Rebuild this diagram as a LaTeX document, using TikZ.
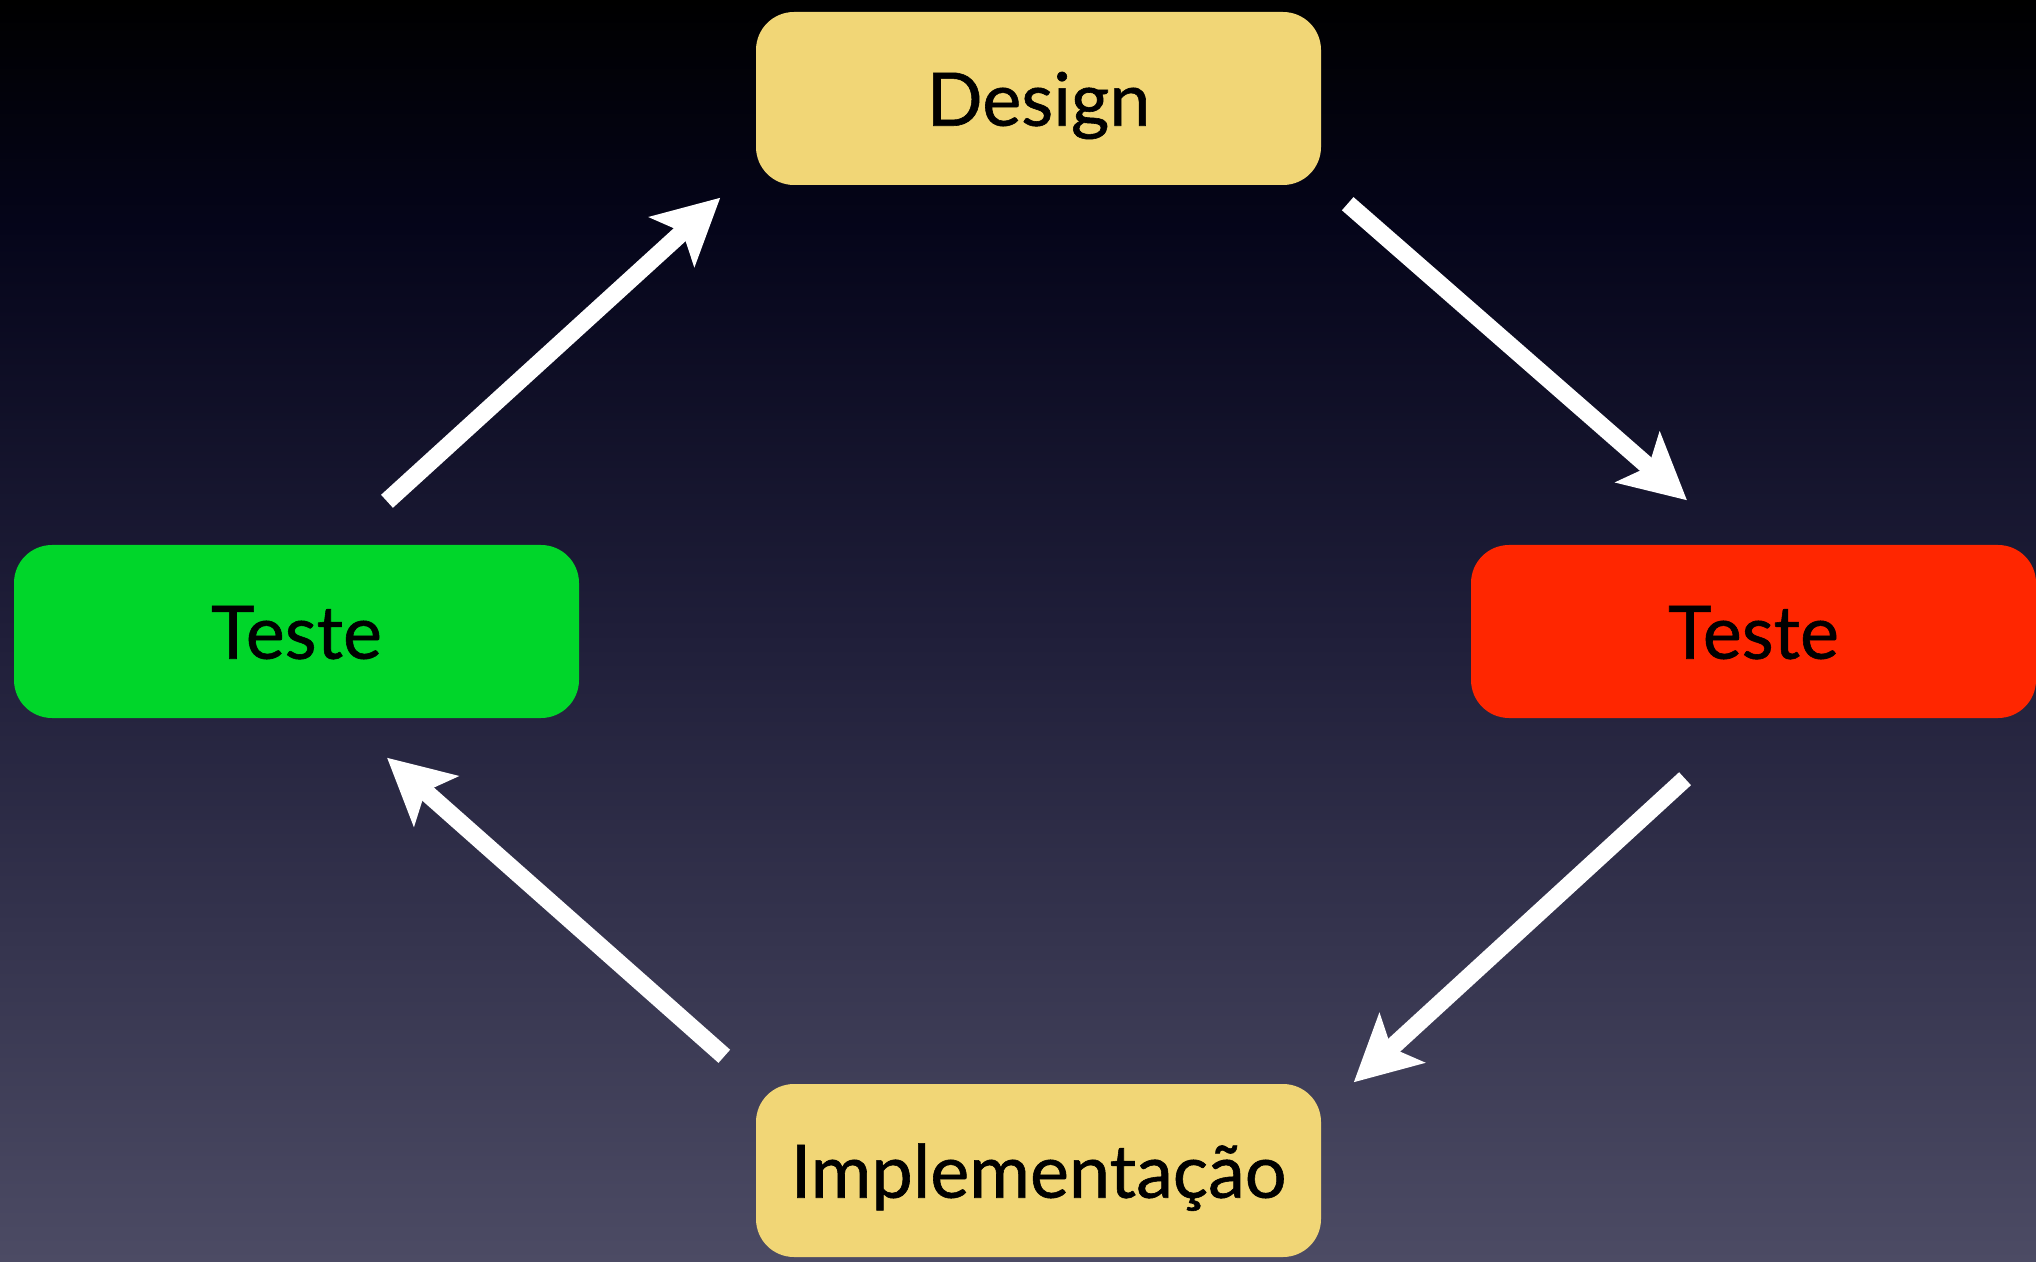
\documentclass[tikz,border=0pt]{standalone}
\usepackage{fontspec}
\setmainfont{Lato}[FakeBold=0.8]
\usetikzlibrary{arrows.meta}
\usetikzlibrary{positioning}
\definecolor{fundotopo}{HTML}{000000}
\definecolor{fundoalto}{HTML}{05051A}
\definecolor{fundomeio}{HTML}{1F1E39}
\definecolor{fundobaixo}{HTML}{4C4B64}
\definecolor{amarelo}{HTML}{F1D676}
\definecolor{verde}{HTML}{00D62A}
\definecolor{vermelho}{HTML}{FF2600}
% a caixa do caminho ocupa de 25bp a 75bp
\pgfdeclareverticalshading{fundo}{100bp}{color(0bp)=(fundobaixo); color(25bp)=(fundobaixo);
  color(50bp)=(fundomeio); color(66bp)=(fundoalto); color(75bp)=(fundotopo);
  color(100bp)=(fundotopo)}
\tikzset{etapa/.style={rectangle, rounded corners=0.38cm, inner sep=0pt,
minimum width=5.65cm, minimum height=1.73cm, text=black,
text height=15.5pt, text depth=0pt,
font=\fontsize{21}{25}\selectfont},
amarela/.style={etapa, fill=amarelo},
verdeb/.style={etapa, fill=verde},
vermelhab/.style={etapa, fill=vermelho},
seta/.style={->, draw=white, line width=5pt},
>={Stealth[length=6.5mm, width=6.6mm, inset=1.4mm]}}
\begin{document}
\begin{tikzpicture}
  % fundo do slide
  \shade [shading=fundo] (0,0) rectangle (20.36,12.61);
  \useasboundingbox (0,0) rectangle (20.36,12.61);

  \node (design) [amarela] at (10.385,11.625) {Design};
  \node (tverde) [verdeb] at (2.965,6.295) {Teste};
  \node (tvermelho) [vermelhab] at (17.535,6.295) {Teste};
  \node (impl) [amarela] at (10.385,0.905) {Implementação};

  % o ciclo
  \draw [seta] ([shift={(0.905,0.43)}]tverde.north) -- ([shift={(-0.35,-0.12)}]design.south west);
  \draw [seta] ([shift={(0.26,-0.18)}]design.south east) -- ([shift={(-0.665,0.44)}]tvermelho.north);
  \draw [seta] ([shift={(-0.685,-0.6)}]tvermelho.south) -- ([shift={(0.32,0.01)}]impl.north east);
  \draw [seta] ([shift={(-0.31,0.27)}]impl.north west) -- ([shift={(0.905,-0.39)}]tverde.south);
\end{tikzpicture}
\end{document}
